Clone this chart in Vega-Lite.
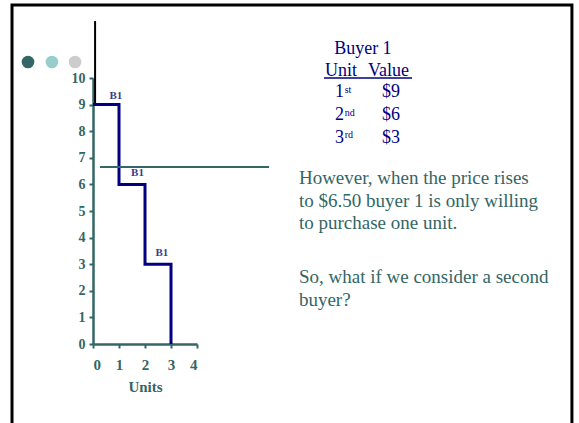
{
  "$schema": "https://vega.github.io/schema/vega-lite/v6.json",
  "width": 104,
  "height": 266,
  "autosize": {"type": "none"},
  "padding": {"left": 93, "top": 78, "right": 382, "bottom": 79},
  "background": "white",
  "config": {"view": {"stroke": null}},
  "datasets": {
    "one": [{}],
    "demand": [
      {"units": 0, "value": 9},
      {"units": 1, "value": 6},
      {"units": 2, "value": 3},
      {"units": 3, "value": 0}
    ],
    "labels": [
      {"label": "B1", "x": 0.88, "y": 9.32},
      {"label": "B1", "x": 1.71, "y": 6.43},
      {"label": "B1", "x": 2.65, "y": 3.42}
    ],
    "dots": [
      {"dot": "a", "x": -2.5, "y": 10.6},
      {"dot": "b", "x": -1.58, "y": 10.6},
      {"dot": "c", "x": -0.69, "y": 10.6}
    ],
    "header": [
      {"t": "Unit", "x": 8.92, "y": 10.08},
      {"t": "Value", "x": 10.58, "y": 10.08}
    ],
    "table": [
      {"t": "1", "x": 9.31, "y": 9.3},
      {"t": "2", "x": 9.31, "y": 8.42},
      {"t": "3", "x": 9.31, "y": 7.56},
      {"t": "$9", "x": 11.12, "y": 9.3},
      {"t": "$6", "x": 11.12, "y": 8.42},
      {"t": "$3", "x": 11.12, "y": 7.56}
    ],
    "sup": [
      {"t": "st", "x": 9.68, "y": 9.45},
      {"t": "nd", "x": 9.68, "y": 8.57},
      {"t": "rd", "x": 9.68, "y": 7.74}
    ],
    "para": [
      {"t": "However, when the price rises", "y": 6.02},
      {"t": "to $6.50 buyer 1 is only willing", "y": 5.15},
      {"t": "to purchase one unit.", "y": 4.32},
      {"t": "So, what if we consider a second", "y": 2.29},
      {"t": "buyer?", "y": 1.43}
    ]
  },
  "encoding": {
    "x": {
      "type": "quantitative",
      "scale": {"domain": [0, 4], "nice": false, "zero": false},
      "axis": {
        "values": [0, 1, 2, 3, 4],
        "grid": false,
        "title": "Units",
        "titleFont": "Liberation Serif",
        "titleFontWeight": "bold",
        "titleFontSize": 15,
        "titleColor": "#336666",
        "titlePadding": 7,
        "labelFont": "Liberation Serif",
        "labelFontWeight": "bold",
        "labelFontSize": 15,
        "labelColor": "#336666",
        "labelPadding": 9,
        "domainColor": "#336666",
        "domainWidth": 2.5,
        "tickColor": "#336666",
        "tickWidth": 2,
        "tickSize": 4
      }
    },
    "y": {
      "type": "quantitative",
      "scale": {"domain": [0, 10], "nice": false, "zero": false},
      "axis": {
        "values": [0, 1, 2, 3, 4, 5, 6, 7, 8, 9, 10],
        "grid": false,
        "title": null,
        "labelFont": "Liberation Serif",
        "labelFontWeight": "bold",
        "labelFontSize": 14,
        "labelColor": "#336666",
        "labelPadding": 4,
        "domainColor": "#336666",
        "domainWidth": 2.5,
        "tickColor": "#336666",
        "tickWidth": 2,
        "tickSize": 4
      }
    }
  },
  "layer": [
    {
      "data": {"name": "one"},
      "mark": {"type": "rect", "fill": null, "stroke": "black", "strokeWidth": 3},
      "encoding": {
        "x": {"datum": -3.115},
        "x2": {"datum": 18.42},
        "y": {"datum": 12.74},
        "y2": {"datum": -3.6}
      }
    },
    {
      "data": {"name": "dots"},
      "mark": {"type": "point", "filled": true, "size": 160, "opacity": 1},
      "encoding": {
        "x": {"field": "x"},
        "y": {"field": "y"},
        "color": {"field": "dot", "type": "nominal", "scale": {"domain": ["a", "b", "c"], "range": ["#336666", "#99cccc", "#cccccc"]}, "legend": null}
      }
    },
    {
      "data": {"name": "one"},
      "mark": {"type": "rule", "color": "black", "strokeWidth": 2},
      "encoding": {
        "x": {"datum": 0.08},
        "y": {"datum": 9.06},
        "y2": {"datum": 12.14}
      }
    },
    {
      "data": {"name": "demand"},
      "mark": {"type": "line", "interpolate": "step-after", "color": "#000080", "strokeWidth": 3},
      "encoding": {
        "x": {"field": "units"},
        "y": {"field": "value"}
      }
    },
    {
      "data": {"name": "one"},
      "mark": {"type": "rule", "color": "#336666", "strokeWidth": 2},
      "encoding": {
        "x": {"datum": 0.27},
        "x2": {"datum": 6.77},
        "y": {"datum": 6.65}
      }
    },
    {
      "data": {"name": "labels"},
      "mark": {"type": "text", "font": "Liberation Serif", "fontSize": 11, "fontWeight": "bold", "color": "#3a3a8a", "baseline": "middle"},
      "encoding": {
        "x": {"field": "x"},
        "y": {"field": "y"},
        "text": {"field": "label"}
      }
    },
    {
      "data": {"name": "one"},
      "mark": {"type": "text", "font": "Liberation Serif", "fontSize": 18, "color": "#000080", "baseline": "alphabetic", "align": "center"},
      "encoding": {
        "x": {"datum": 10.38},
        "y": {"datum": 10.9},
        "text": {"value": "Buyer 1"}
      }
    },
    {
      "data": {"name": "header"},
      "mark": {"type": "text", "font": "Liberation Serif", "fontSize": 18, "color": "#000080", "baseline": "alphabetic", "align": "left"},
      "encoding": {
        "x": {"field": "x"},
        "y": {"field": "y"},
        "text": {"field": "t"}
      }
    },
    {
      "data": {"name": "one"},
      "mark": {"type": "rule", "color": "#000080", "strokeWidth": 1.5},
      "encoding": {
        "x": {"datum": 8.885},
        "x2": {"datum": 12.27},
        "y": {"datum": 10.0}
      }
    },
    {
      "data": {"name": "table"},
      "mark": {"type": "text", "font": "Liberation Serif", "fontSize": 18, "color": "#000080", "baseline": "alphabetic", "align": "left"},
      "encoding": {
        "x": {"field": "x"},
        "y": {"field": "y"},
        "text": {"field": "t"}
      }
    },
    {
      "data": {"name": "sup"},
      "mark": {"type": "text", "font": "Liberation Serif", "fontSize": 10, "color": "#000080", "baseline": "alphabetic", "align": "left"},
      "encoding": {
        "x": {"field": "x"},
        "y": {"field": "y"},
        "text": {"field": "t"}
      }
    },
    {
      "data": {"name": "para"},
      "mark": {"type": "text", "font": "Liberation Serif", "fontSize": 19, "color": "#336666", "baseline": "alphabetic", "align": "left"},
      "encoding": {
        "x": {"datum": 7.92},
        "y": {"field": "y"},
        "text": {"field": "t"}
      }
    }
  ]
}
